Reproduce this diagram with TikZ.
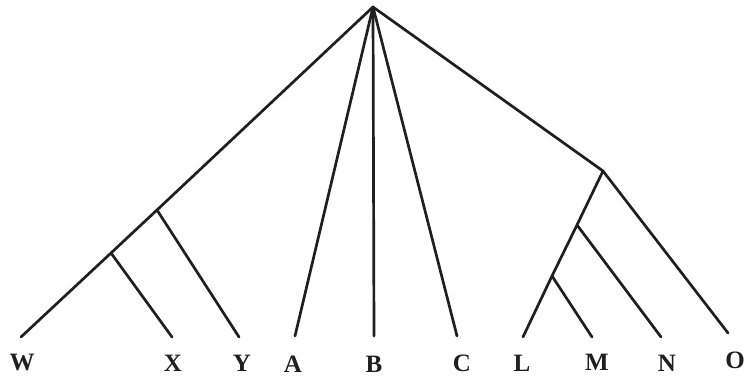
\documentclass[tikz,border=0pt]{standalone}
\usepackage{fontspec}
\setmainfont{Liberation Serif}
\tikzset{
  branch/.style={line width=2.7pt, line cap=round, line join=round, black!88},
  leaflabel/.style={font=\fontsize{25}{27}\selectfont\bfseries, text=black!88, inner sep=0pt, anchor=center}
}
\begin{document}
\begin{tikzpicture}[x=1pt,y=-1pt]
\useasboundingbox (0,0) rectangle (747,379);
% internal points
\coordinate (root) at (373,7);
\coordinate (jY) at (157,210);
\coordinate (jX) at (111,253);
\coordinate (jR) at (603,171);
\coordinate (jN) at (577,225);
\coordinate (jM) at (552,276);
% leaf ends
\coordinate (eW) at (21,337);
\coordinate (eX) at (172,337);
\coordinate (eY) at (239,337);
\coordinate (eA) at (295,336);
\coordinate (eB) at (374,336);
\coordinate (eC) at (457,336);
\coordinate (eL) at (523,337);
\coordinate (eM) at (592,337);
\coordinate (eN) at (661,337);
\coordinate (eO) at (728,333);
% branches
\draw[branch] (root) -- (jY) -- (jX) -- (eW);
\draw[branch] (jX) -- (eX);
\draw[branch] (jY) -- (eY);
\draw[branch] (root) -- (eA);
\draw[branch] (root) -- (eB);
\draw[branch] (root) -- (eC);
\draw[branch] (root) -- (jR) -- (jN) -- (jM) -- (eL);
\draw[branch] (jM) -- (eM);
\draw[branch] (jN) -- (eN);
\draw[branch] (jR) -- (eO);
% labels
\node[leaflabel] (W) at (22,363) {W};
\node[leaflabel] (X) at (173,363) {X};
\node[leaflabel] (Y) at (242,363) {Y};
\node[leaflabel] (A) at (293,364) {A};
\node[leaflabel] (B) at (374,364) {B};
\node[leaflabel] (C) at (462,363) {C};
\node[leaflabel] (L) at (522,363) {L};
\node[leaflabel] (M) at (597,362) {M};
\node[leaflabel] (N) at (667,363) {N};
\node[leaflabel] (O) at (735,360) {O};
\end{tikzpicture}
\end{document}
